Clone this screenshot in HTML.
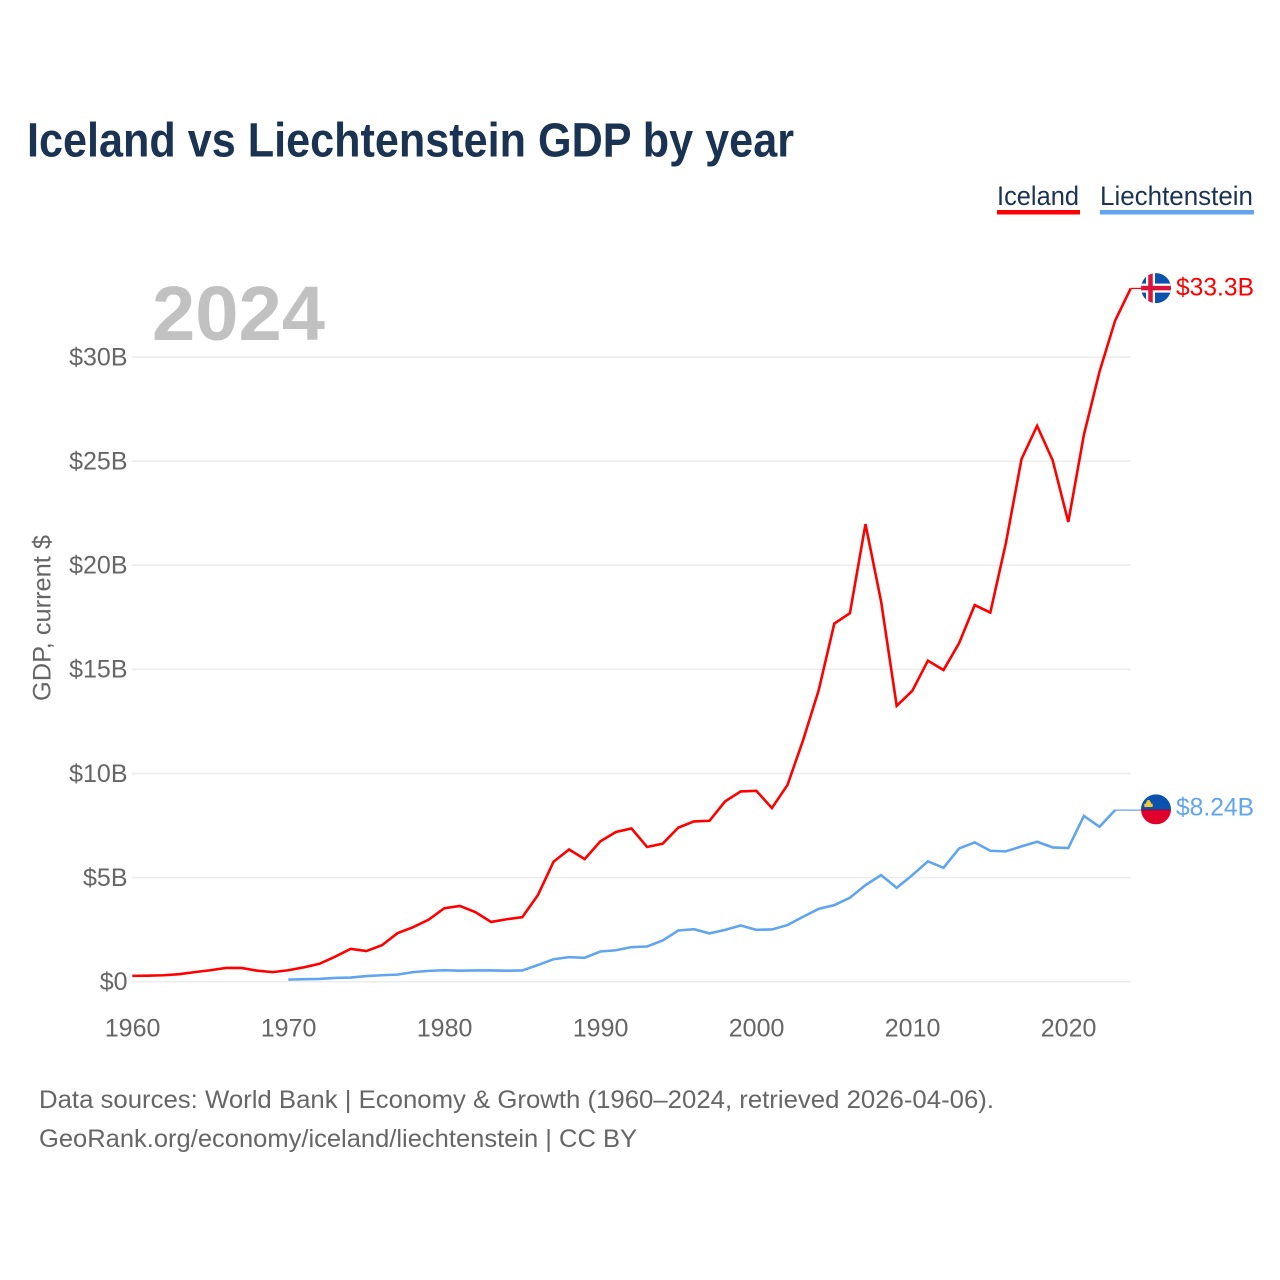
<!DOCTYPE html>
<html lang="en">
<head>
<meta charset="utf-8">
<title>Iceland vs Liechtenstein GDP by year</title>
<style>
html,body{margin:0;padding:0;background:#fff;}
svg{display:block;font-family:"Liberation Sans",sans-serif;}
</style>
</head>
<body>
<svg id="chart" width="1280" height="1280" viewBox="0 0 1280 1280" xmlns="http://www.w3.org/2000/svg">
  <defs>
    <clipPath id="flag-clip"><circle cx="0" cy="0" r="15"></circle></clipPath>
  </defs>
  <rect x="0" y="0" width="1280" height="1280" fill="#ffffff"></rect>
  <text x="27" y="156.5" font-size="48" font-weight="700" fill="#1a3353" textLength="767" lengthAdjust="spacingAndGlyphs">Iceland vs Liechtenstein GDP by year</text>

  <g>
    <text x="997" y="205" font-size="26.5" fill="#1a3353" textLength="82" lengthAdjust="spacingAndGlyphs">Iceland</text>
    <rect x="997" y="210" width="83" height="4.5" fill="#ff0000"></rect>
  </g>
  <g>
    <text x="1100" y="205" font-size="26.5" fill="#1a3353" textLength="153" lengthAdjust="spacingAndGlyphs">Liechtenstein</text>
    <rect x="1100" y="210" width="154" height="4.5" fill="#60a5ee"></rect>
  </g>

  <text x="152" y="340" font-size="77" font-weight="700" fill="#c1c1c1" textLength="173" lengthAdjust="spacingAndGlyphs">2024</text>
  <text transform="translate(50.5,701) rotate(-90)" font-size="25" fill="#666666" textLength="166" lengthAdjust="spacingAndGlyphs">GDP, current $</text>

  <g id="grid"></g>
  <g id="y-ticks"></g>
  <g id="x-ticks"></g>
  <g id="series"></g>

  <g id="flag-iceland">
    <g clip-path="url(#flag-clip)">
      <rect x="-15" y="-15" width="30" height="30" fill="#0a52ad"></rect>
      <rect x="-10" y="-15" width="9" height="30" fill="#ffffff"></rect>
      <rect x="-15" y="-4.5" width="30" height="9" fill="#ffffff"></rect>
      <rect x="-7.75" y="-15" width="4.5" height="30" fill="#d8143a"></rect>
      <rect x="-15" y="-2.25" width="30" height="4.5" fill="#d8143a"></rect>
    </g>
  </g>
  <g id="flag-liechtenstein">
    <g clip-path="url(#flag-clip)">
      <rect x="-15" y="-15" width="30" height="15.5" fill="#0a52ad"></rect>
      <rect x="-15" y="0.5" width="30" height="14.5" fill="#e0002b"></rect>
      <rect x="-15" y="0" width="30" height="1" fill="#7a1a55"></rect>
      <path d="M-11.7,-2.3 L-3.3,-2.3 L-3.3,-5.5 L-5,-6 Q-5.8,-9.5 -7.5,-9.5 Q-9.2,-9.5 -10,-6 L-11.7,-5.5 Z" fill="#f7c82f"></path>
    </g>
  </g>
  <text id="value-iceland" x="1254" y="296" font-size="25" text-anchor="end" fill="#ff0000" textLength="78" lengthAdjust="spacingAndGlyphs"></text>
  <text id="value-liechtenstein" x="1254" y="816" font-size="25" text-anchor="end" fill="#60a5ee" textLength="78" lengthAdjust="spacingAndGlyphs"></text>

  <text x="39" y="1108" font-size="25" fill="#666666" textLength="955" lengthAdjust="spacingAndGlyphs">Data sources: World Bank | Economy &amp; Growth (1960–2024, retrieved 2026-04-06).</text>
  <a><text x="39" y="1147" font-size="25" fill="#666666" textLength="598" lengthAdjust="spacingAndGlyphs">GeoRank.org/economy/iceland/liechtenstein | CC BY</text></a>
</svg>
<script>
const years = [1960,1961,1962,1963,1964,1965,1966,1967,1968,1969,1970,1971,1972,1973,1974,1975,1976,1977,1978,1979,1980,1981,1982,1983,1984,1985,1986,1987,1988,1989,1990,1991,1992,1993,1994,1995,1996,1997,1998,1999,2000,2001,2002,2003,2004,2005,2006,2007,2008,2009,2010,2011,2012,2013,2014,2015,2016,2017,2018,2019,2020,2021,2022,2023,2024];
const icelandGdp = [0.28,0.29,0.31,0.36,0.46,0.55,0.66,0.66,0.53,0.46,0.55,0.69,0.86,1.2,1.58,1.47,1.75,2.33,2.62,2.98,3.53,3.64,3.34,2.87,3.0,3.1,4.16,5.76,6.35,5.89,6.74,7.19,7.36,6.47,6.63,7.4,7.7,7.73,8.66,9.14,9.17,8.34,9.45,11.6,14.0,17.2,17.7,21.98,18.26,13.25,13.97,15.42,14.97,16.26,18.09,17.73,21.07,25.1,26.7,25.04,22.08,26.27,29.3,31.75,33.3];
const liechtensteinGdp = [null,null,null,null,null,null,null,null,null,null,0.1,0.12,0.135,0.18,0.2,0.27,0.31,0.34,0.46,0.52,0.55,0.53,0.54,0.54,0.53,0.54,0.8,1.08,1.18,1.15,1.45,1.51,1.66,1.69,1.98,2.46,2.52,2.32,2.49,2.7,2.49,2.51,2.72,3.12,3.5,3.68,4.03,4.64,5.12,4.51,5.12,5.78,5.47,6.40,6.69,6.29,6.26,6.5,6.72,6.45,6.42,7.96,7.44,8.24,null];
const yTickValues = [0,5,10,15,20,25,30];
const yTickLabels = ["$0","$5B","$10B","$15B","$20B","$25B","$30B"];
const xTickValues = [1960,1970,1980,1990,2000,2010,2020];
const xTickLabels = ["1960","1970","1980","1990","2000","2010","2020"];

const NS = "http://www.w3.org/2000/svg";
const xScale = function (year) { return 132.3 + (year - 1960) * 15.6; };
const yScale = function (value) { return 981.7 - value * 20.82; };
const make = function (tag, parentId, attrs, text) {
  const el = document.createElementNS(NS, tag);
  for (const key in attrs) { el.setAttribute(key, attrs[key]); }
  if (text !== undefined) { el.textContent = text; }
  document.getElementById(parentId).appendChild(el);
  return el;
};

yTickValues.forEach(function (value, i) {
  const y = yScale(value);
  const line = make("line", "grid", {x1: 131.5, x2: 1131, y1: y, y2: y, stroke: "#ececec", "stroke-width": 1.5});
  
  
  const label = make("text", "y-ticks", {x: 127.5, y: y + 8.3, "font-size": 25, "text-anchor": "end", fill: "#666666"}, yTickLabels[i]);
  
  
});

xTickValues.forEach(function (year, i) {
  const label = make("text", "x-ticks", {x: xScale(year) + 0.3, y: 1036.5, "font-size": 25, "text-anchor": "middle", fill: "#666666"}, xTickLabels[i]);
  
  
});

const pointsFor = function (values) {
  const pts = [];
  values.forEach(function (v, i) {
    if (v !== null) { pts.push([xScale(years[i]), yScale(v)]); }
  });
  return pts;
};
const toPath = function (pts) {
  return pts.map(function (p, i) { return (i ? "L" : "M") + p[0].toFixed(2) + "," + p[1].toFixed(2); }).join(" ");
};
const formatValue = function (v) {
  return "$" + (v >= 10 ? v.toFixed(1) : v.toFixed(2)) + "B";
};
const lastOf = function (values) {
  return values.filter(function (v) { return v !== null; }).slice(-1)[0];
};

const icePts = pointsFor(icelandGdp);
const iceLine = make("path", "series", {d: toPath(icePts), fill: "none", stroke: "#ff0000", "stroke-width": 2.6, "stroke-linejoin": "miter"});


const iceEnd = icePts[icePts.length - 1];
const iceLeader = make("path", "series", {d: "M" + iceEnd[0] + "," + iceEnd[1] + " L1141," + iceEnd[1], fill: "none", stroke: "#ff0000", "stroke-width": 1.2});



const liePts = pointsFor(liechtensteinGdp);
const lieLine = make("path", "series", {d: toPath(liePts), fill: "none", stroke: "#60a5ee", "stroke-width": 2.6, "stroke-linejoin": "miter"});


const lieEnd = liePts[liePts.length - 1];
const lieLeader = make("path", "series", {d: "M" + lieEnd[0] + "," + lieEnd[1] + " L1141," + lieEnd[1], fill: "none", stroke: "#60a5ee", "stroke-width": 1.2});



document.getElementById("flag-iceland").setAttribute("transform", "translate(1156," + (iceEnd[1] - 0.3) + ")");
document.getElementById("flag-liechtenstein").setAttribute("transform", "translate(1156," + (lieEnd[1] - 0.8) + ")");
const iceVal = document.getElementById("value-iceland");
iceVal.textContent = formatValue(lastOf(icelandGdp));
iceVal.setAttribute("y", iceEnd[1] + 7);
const lieVal = document.getElementById("value-liechtenstein");
lieVal.textContent = formatValue(lastOf(liechtensteinGdp));
lieVal.setAttribute("y", lieEnd[1] + 5.5);
</script>
</body>
</html>
